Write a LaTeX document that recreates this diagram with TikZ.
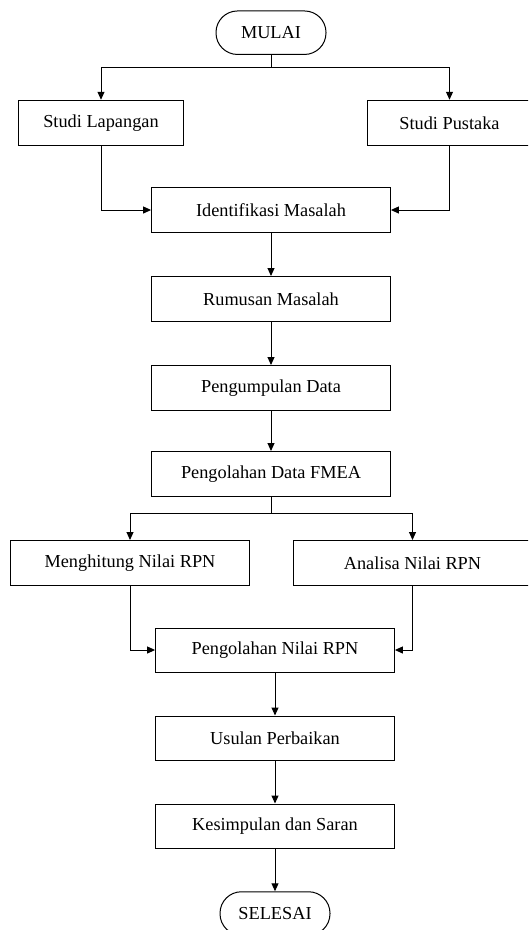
\documentclass[tikz,border=0pt]{standalone}
\usepackage{fontspec}
\setmainfont{Liberation Serif}
\usetikzlibrary{arrows.meta}
\begin{document}
\begin{tikzpicture}[x=1pt,y=-1pt,
  every node/.style={font=\fontsize{18.3}{22}\selectfont, inner sep=0pt, line width=1pt},
  procbox/.style={draw, rectangle, minimum width=238.8pt, minimum height=45pt},
  sidebox/.style={draw, rectangle, minimum width=164.5pt, minimum height=45.5pt},
  termbox/.style={draw, rectangle, rounded corners=21.5pt, minimum width=110pt, minimum height=43.5pt},
  conn/.style={line width=1pt},
  arr/.style={conn, -{Triangle[length=8pt,width=7pt]}}]
\useasboundingbox (0,0) rectangle (528,930);
\clip (0,0) rectangle (528,930);
\fill[white] (0,0) rectangle (528,930);

\node[termbox] (mulai) at (271,32.7) {MULAI};
\node[sidebox] (lap) at (101,123) {Studi Lapangan};
\node[sidebox] (pus) at (449.5,123) {Studi Pustaka};
\node[procbox] (iden) at (271,210) {Identifikasi Masalah};
\node[procbox] (rum) at (271,299) {Rumusan Masalah};
\node[procbox] (peng) at (271,388) {Pengumpulan Data};
\node[procbox] (fmea) at (271,474) {Pengolahan Data FMEA};
\node[procbox] (hit) at (130,563) {Menghitung Nilai RPN};
\node[procbox] (ana) at (412.5,563) {Analisa Nilai RPN};
\node[procbox, minimum height=44pt] (olah) at (275,650) {Pengolahan Nilai RPN};
\node[procbox, minimum height=44pt] (usul) at (275,738) {Usulan Perbaikan};
\node[procbox, minimum height=44pt] (kes) at (275,826) {Kesimpulan dan Saran};
\node[termbox] (selesai) at (275,913.5) {SELESAI};

\coordinate (j1) at (271,67.3);
\coordinate (j2) at (271,513);

\draw[conn] (mulai) -- (j1);
\draw[arr] (j1) -| (lap);
\draw[arr] (j1) -| (pus);
\draw[arr] (lap) |- (iden);
\draw[arr] (pus) |- (iden);
\draw[arr] (iden) -- (rum);
\draw[arr] (rum) -- (peng);
\draw[arr] (peng) -- (fmea);
\draw[conn] (fmea) -- (j2);
\draw[arr] (j2) -| (hit);
\draw[arr] (j2) -| (ana);
\draw[arr] (hit) |- (olah);
\draw[arr] (ana) |- (olah);
\draw[arr] (olah) -- (usul);
\draw[arr] (usul) -- (kes);
\draw[arr] (kes) -- (selesai);
\end{tikzpicture}
\end{document}
